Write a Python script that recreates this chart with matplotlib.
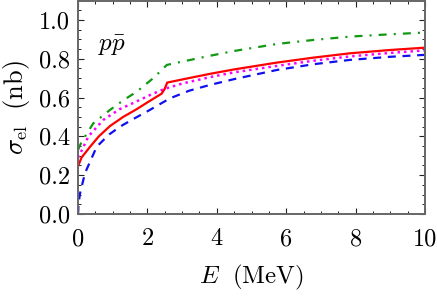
import numpy as np
import matplotlib
matplotlib.use('Agg')
import matplotlib.pyplot as plt
from matplotlib.ticker import MultipleLocator

plt.rcParams['font.family'] = 'serif'
plt.rcParams['font.serif'] = ['cmr10']
plt.rcParams['mathtext.fontset'] = 'cm'
plt.rcParams['axes.formatter.use_mathtext'] = True

# values (E in MeV, sigma in nb)
E_red = [0.0, 0.1, 0.35, 0.6, 0.92, 1.3, 1.69, 2.0, 2.41, 2.5, 2.57, 3.0, 3.8, 4.5, 5.73, 6.8, 7.84, 9.0, 10.0]
s_red = [0.245, 0.29, 0.347, 0.40, 0.453, 0.50, 0.54, 0.575, 0.62, 0.645, 0.677, 0.693, 0.722, 0.745, 0.78, 0.806, 0.828, 0.845, 0.857]

E_mag = [0.0, 0.06, 0.3, 0.73, 1.2, 1.69, 2.1, 2.5, 3.0, 3.8, 4.5, 5.73, 6.8, 7.84, 9.0, 10.0]
s_mag = [0.29, 0.31, 0.40, 0.485, 0.54, 0.58, 0.615, 0.645, 0.672, 0.705, 0.73, 0.763, 0.79, 0.812, 0.83, 0.843]

E_blue = [0.0, 0.02, 0.06, 0.2, 0.54, 0.9, 1.21, 1.6, 1.98, 2.65, 3.2, 3.8, 4.5, 5.73, 6.8, 7.84, 9.0, 10.0]
s_blue = [0.0, 0.06, 0.107, 0.21, 0.347, 0.41, 0.45, 0.49, 0.527, 0.596, 0.635, 0.665, 0.695, 0.742, 0.772, 0.794, 0.81, 0.82]

E_green = [0.0, 0.1, 0.44, 0.92, 1.3, 1.69, 2.17, 2.56, 3.0, 3.8, 4.5, 5.73, 6.8, 7.84, 9.0, 10.0]
s_green = [0.33, 0.37, 0.467, 0.536, 0.585, 0.63, 0.70, 0.768, 0.785, 0.815, 0.84, 0.876, 0.897, 0.914, 0.926, 0.935]

fig = plt.figure(figsize=(4.37, 2.97), dpi=100)
ax = fig.add_axes([78 / 437, 1 - 214 / 297, 347 / 437, 213.5 / 297])

ax.plot(E_green, s_green, color='#119911', lw=1.6, ls=(0, (3.6, 3.2, 0.9, 3.2)))
ax.plot(E_blue, s_blue, color='#1010ee', lw=1.6, ls=(0, (3.6, 3.0)))
ax.plot(E_mag, s_mag, color='#ff00ff', lw=1.8, ls=(0, (1, 1.6)))
ax.plot(E_red, s_red, color='#ff0000', lw=1.6)

ax.set_xlim(0, 10)
ax.set_ylim(0, 1.1)
ax.xaxis.set_major_locator(MultipleLocator(2))
ax.xaxis.set_minor_locator(MultipleLocator(0.5))
ax.yaxis.set_major_locator(MultipleLocator(0.2))
ax.yaxis.set_minor_locator(MultipleLocator(0.05))
ax.set_xticks([0, 2, 4, 6, 8, 10])
ax.set_xticklabels(['0', '2', '4', '6', '8', '10'])
ax.set_yticks([0.0, 0.2, 0.4, 0.6, 0.8, 1.0])
ax.set_yticklabels(['0.0', '0.2', '0.4', '0.6', '0.8', '1.0'])
ax.tick_params(which='both', direction='in', top=True, right=True, labelsize=17.5, color='#222222')
ax.tick_params(which='major', length=4, width=0.8)
ax.tick_params(axis='x', which='major', pad=10)
ax.tick_params(axis='y', which='major', pad=6)
ax.tick_params(which='minor', length=2.5, width=0.7)
for sp in ax.spines.values():
    sp.set_color('#666666')
    sp.set_linewidth(1.4)

ax.set_xlabel(r'$E\ \ \mathrm{(MeV)}$', fontsize=18, labelpad=9)
ax.set_ylabel(r'$\sigma_{\mathrm{el}}\ \ \mathrm{(nb)}$', fontsize=19, labelpad=5)
ax.text(0.58, 0.87, r'$p\bar{p}$', fontsize=18, va='center', ha='left')

fig.savefig('out.png', dpi=100)
